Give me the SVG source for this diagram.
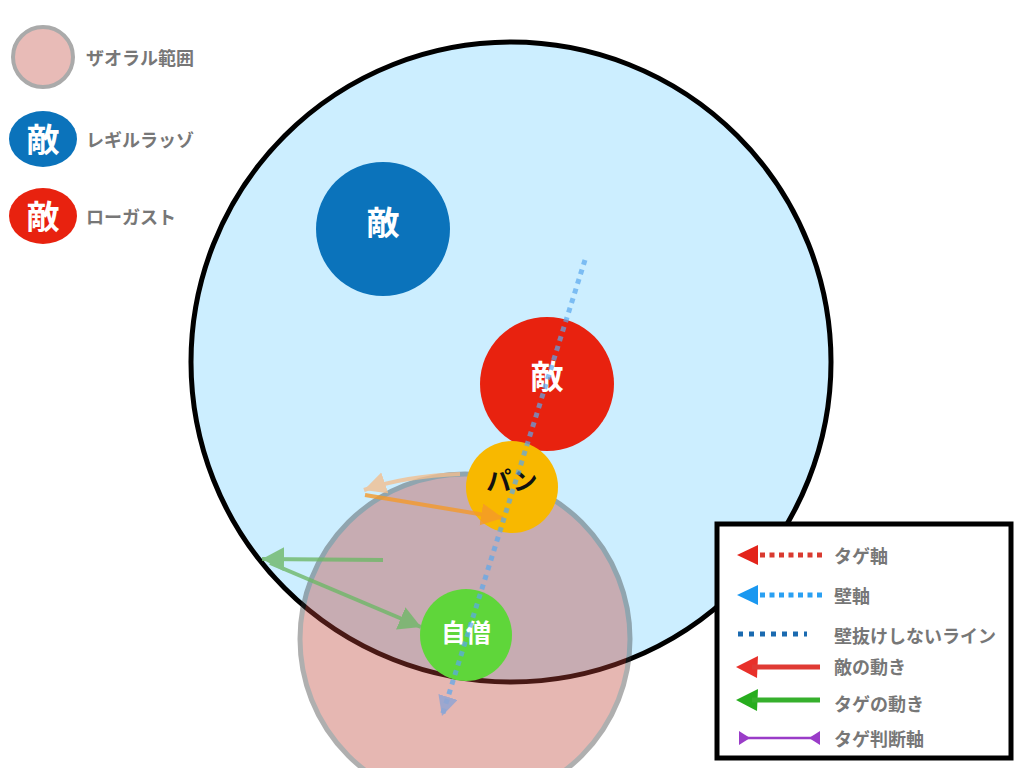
<svg xmlns="http://www.w3.org/2000/svg" width="1024" height="768" viewBox="0 0 1024 768">
  <defs>
    <style>
      .lbl { font-family: "Noto Sans CJK JP", "Noto Sans", sans-serif; font-weight: bold; fill: #777777; font-size: 18px; dominant-baseline: central; }
      .node { font-family: "Noto Sans CJK JP", "Noto Sans", sans-serif; font-weight: bold; text-anchor: middle; dominant-baseline: central; }
      .white { fill: #ffffff; }
    </style>
    <marker id="mBlueAxis" markerUnits="userSpaceOnUse" markerWidth="24" markerHeight="24" refX="20" refY="10" orient="auto">
      <path d="M0,0 L20,10 L0,20 Z" fill="#6f9ee0" fill-opacity="0.85"/>
    </marker>
    <marker id="mPeach" markerUnits="userSpaceOnUse" markerWidth="26" markerHeight="26" refX="22" refY="11" orient="auto">
      <path d="M0,0 L22,11 L0,22 Z" fill="#f2bf90"/>
    </marker>
    <marker id="mOrange" markerUnits="userSpaceOnUse" markerWidth="26" markerHeight="26" refX="22" refY="11" orient="auto">
      <path d="M0,0 L22,11 L0,22 Z" fill="#f59a2a"/>
    </marker>
    <marker id="mGreen" markerUnits="userSpaceOnUse" markerWidth="26" markerHeight="26" refX="22" refY="12" orient="auto">
      <path d="M0,0 L22,12 L0,24 Z" fill="#6fb868"/>
    </marker>
  </defs>

  <!-- top-left legend -->
  <g id="legend-top">
    <g id="legend-zaoral">
      <circle cx="43" cy="57" r="30" fill="#e8bbb7" stroke="#aaaaaa" stroke-width="4"/>
      <text class="lbl" x="86" y="57">ザオラル範囲</text>
    </g>
    <g id="legend-blue-enemy">
      <ellipse cx="43" cy="139" rx="34" ry="28" fill="#0b73bb"/>
      <text class="node white" x="43" y="138" font-size="33">敵</text>
      <text class="lbl" x="86" y="139">レギルラッゾ</text>
    </g>
    <g id="legend-red-enemy">
      <ellipse cx="43" cy="216" rx="34" ry="28" fill="#e8220f"/>
      <text class="node white" x="43" y="215" font-size="33">敵</text>
      <text class="lbl" x="86" y="216">ローガスト</text>
    </g>
  </g>

  <!-- main area -->
  <g id="wall-range">
    <circle cx="511" cy="362" r="320" fill="#cceeff" stroke="#000000" stroke-width="5"/>
  </g>
  <g id="zaoral-range" opacity="0.38">
    <circle cx="465" cy="639" r="165" fill="#c04337" stroke="#303030" stroke-width="5"/>
  </g>
  <g id="enemy-blue">
    <circle cx="383" cy="229" r="67" fill="#0b73bb"/>
    <text class="node white" x="383" y="221" font-size="33">敵</text>
  </g>
  <g id="enemy-red">
    <circle cx="547" cy="384" r="67" fill="#e8220f"/>
    <text class="node white" x="547" y="375" font-size="33">敵</text>
  </g>
  <g id="pan">
    <circle cx="512" cy="487" r="46" fill="#f8b800"/>
    <text class="node" x="512" y="479" font-size="25" fill="#111111">パン</text>
  </g>
  <g id="jisou">
    <circle cx="466" cy="635" r="46" fill="#5fd63a"/>
    <text class="node white" x="466" y="631" font-size="25">自僧</text>
  </g>

  <!-- connectors -->
  <g id="connectors">
    <g opacity="0.8">
      <path d="M460,474 Q405,476 364,490" fill="none" stroke="#f2bf90" stroke-width="4" marker-end="url(#mPeach)"/>
      <path d="M365,495 L503,518" fill="none" stroke="#f59a2a" stroke-width="4" marker-end="url(#mOrange)"/>
    </g>
    <g opacity="0.8">
      <path d="M383,560 L262,559" fill="none" stroke="#6fb868" stroke-width="4" marker-end="url(#mGreen)"/>
      <path d="M270,563 L421,627" fill="none" stroke="#6fb868" stroke-width="4" marker-end="url(#mGreen)"/>
    </g>
    <g opacity="0.7">
      <path d="M585,260 L442,716" fill="none" stroke="#5aa8ee" stroke-width="5" stroke-dasharray="5 5" marker-end="url(#mBlueAxis)"/>
    </g>
  </g>

  <!-- bottom-right legend -->
  <g id="legend-box">
    <rect x="717" y="524" width="294" height="234" fill="#ffffff" stroke="#000000" stroke-width="5"/>
    <g id="legend-tage-axis">
      <path d="M737,555 L758,545 L758,565 Z" fill="#e3241b"/>
      <line x1="760" y1="555" x2="823" y2="555" stroke="#d93a30" stroke-width="5" stroke-dasharray="5 4.5"/>
      <text class="lbl" x="834" y="555">タゲ軸</text>
    </g>
    <g id="legend-wall-axis">
      <path d="M737,595 L758,585 L758,605 Z" fill="#1a98f0"/>
      <line x1="760" y1="595" x2="823" y2="595" stroke="#2aa0f2" stroke-width="5" stroke-dasharray="5 4.5"/>
      <text class="lbl" x="834" y="595">壁軸</text>
    </g>
    <g id="legend-no-wall">
      <line x1="738" y1="634" x2="807" y2="634" stroke="#1a6ab0" stroke-width="5" stroke-dasharray="5 6"/>
      <text class="lbl" x="834" y="635">壁抜けしないライン</text>
    </g>
    <g id="legend-enemy-move">
      <path d="M736,667 L758,656 L757,678 Z" fill="#e8302a"/>
      <line x1="752" y1="667" x2="820" y2="667" stroke="#e03a34" stroke-width="5"/>
      <text class="lbl" x="834" y="666">敵の動き</text>
    </g>
    <g id="legend-tage-move">
      <path d="M736,700 L758,689 L757,711 Z" fill="#27ad1e"/>
      <line x1="752" y1="700" x2="820" y2="700" stroke="#36b02c" stroke-width="5"/>
      <text class="lbl" x="834" y="703">タゲの動き</text>
    </g>
    <g id="legend-tage-judge">
      <path d="M739,731 L750,738 L739,745 Z" fill="#9a3cc8"/>
      <path d="M820,731 L809,738 L820,745 Z" fill="#9a3cc8"/>
      <line x1="739" y1="738" x2="820" y2="738" stroke="#9a3cc8" stroke-width="2.5"/>
      <text class="lbl" x="834" y="738">タゲ判断軸</text>
    </g>
  </g>
</svg>
